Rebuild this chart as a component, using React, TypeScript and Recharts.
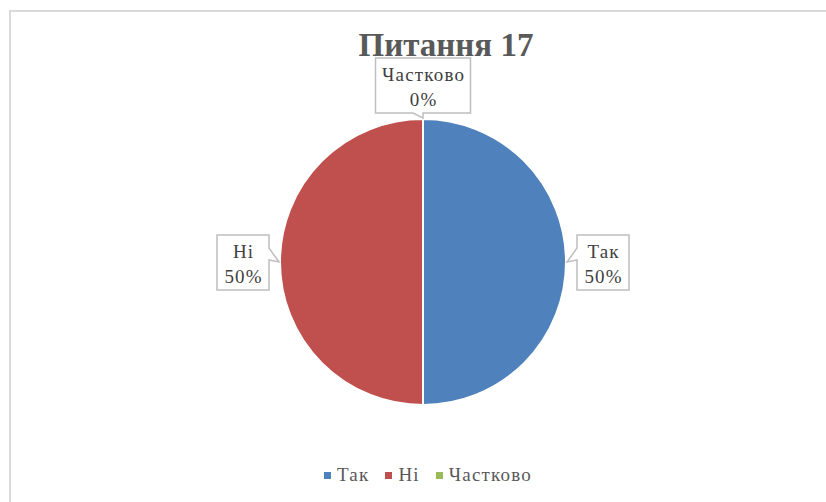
import React from "react";
import { Cell, Legend, Pie, PieChart } from "recharts";

const categories = ["Так", "Ні", "Частково"];
const values = [50, 50, 0];
const colors = ["#4F81BD", "#C0504D", "#9BBB59"];
const title = "Питання 17";

const data = categories.map((name, i) => ({ name, value: values[i] }));

const RADIAN = Math.PI / 180;
const SERIF = "Liberation Serif, Times New Roman, serif";

function CalloutLabel(props: any) {
  const { cx, cy, midAngle, outerRadius, percent, name } = props;
  const tx = cx + outerRadius * Math.cos(-midAngle * RADIAN);
  const ty = cy + outerRadius * Math.sin(-midAngle * RADIAN);
  const w = Math.max(52, name.length * 10 + 15);
  const h = 55;
  const dx = Math.cos(-midAngle * RADIAN);
  const dy = Math.sin(-midAngle * RADIAN);
  let x0: number;
  let y0: number;
  let path: string;
  if (Math.abs(dx) >= Math.abs(dy)) {
    y0 = ty - 27;
    if (dx > 0) {
      x0 = tx + 11;
      path = `M${x0},${y0} H${x0 + w} V${y0 + h} H${x0} V${ty - 2} L${tx + 1},${ty} L${x0},${ty - 14} Z`;
    } else {
      x0 = tx - 11 - w;
      const r = x0 + w;
      path = `M${x0},${y0} H${r} V${ty - 14} L${tx - 1},${ty} L${r},${ty - 2} V${y0 + h} H${x0} Z`;
    }
  } else {
    x0 = tx - w / 2;
    if (dy < 0) {
      y0 = ty - 6 - h;
      const b = y0 + h;
      path = `M${x0},${y0} H${x0 + w} V${b} H${tx} L${tx},${ty - 1} L${tx - 10},${b} H${x0} Z`;
    } else {
      y0 = ty + 6;
      path = `M${x0},${y0} H${tx - 10} L${tx},${ty + 1} L${tx},${y0} H${x0 + w} V${y0 + h} H${x0} Z`;
    }
  }
  const pct = `${Math.round(percent * 100)}%`;
  const textStyle = { fontFamily: SERIF, fontSize: 19, letterSpacing: 1.2 };
  return (
    <g>
      <path d={path} fill="#ffffff" stroke="#bfbfbf" strokeWidth={1.5} />
      <text x={x0 + w / 2 + 0.6} y={y0 + 23} textAnchor="middle" style={textStyle} fill="#404040">
        {name}
      </text>
      <text x={x0 + w / 2 + 0.6} y={y0 + 48} textAnchor="middle" style={textStyle} fill="#404040">
        {pct}
      </text>
    </g>
  );
}

// legend built from our own arrays so the order stays Так, Ні, Частково
function LegendContent() {
  return (
    <div style={{ display: "flex", justifyContent: "center", alignItems: "center", columnGap: 16, width: 838 }}>
      {categories.map((name, i) => (
        <div key={name} style={{ display: "flex", alignItems: "center" }}>
          <span style={{ width: 7, height: 7, background: colors[i], marginRight: 6, display: "inline-block" }} />
          <span style={{ fontFamily: SERIF, fontSize: 19, letterSpacing: 1.2, color: "#595959" }}>{name}</span>
        </div>
      ))}
    </div>
  );
}

export default function App() {
  return (
    <div style={{ position: "fixed", inset: 0, overflow: "hidden", background: "#fff" }}>
      <div
        style={{
          position: "absolute",
          left: 9,
          top: 10,
          width: 870,
          height: 510,
          border: "2px solid #d9d9d9",
          boxSizing: "border-box",
          background: "#fff",
        }}
      >
        <div
          style={{
            position: "absolute",
            top: 15,
            left: 0,
            width: 870,
            textAlign: "center",
            fontFamily: SERIF,
            fontWeight: "bold",
            fontSize: 33,
            lineHeight: "36px",
            color: "#595959",
          }}
        >
          {title}
        </div>
        <div style={{ position: "absolute", left: -2, top: -2 }}>
          <PieChart width={870} height={510}>
            <Pie
              data={data}
              dataKey="value"
              nameKey="name"
              cx={409}
              cy={247}
              outerRadius={143}
              startAngle={90}
              endAngle={-270}
              stroke="#ffffff"
              strokeWidth={2}
              label={CalloutLabel}
              labelLine={false}
              isAnimationActive={false}
            >
              {data.map((d, i) => (
                <Cell key={d.name} fill={colors[i]} />
              ))}
            </Pie>
            <Legend
              content={LegendContent}
              wrapperStyle={{ position: "absolute", left: 0, top: 454, width: 838 }}
            />
          </PieChart>
        </div>
      </div>
    </div>
  );
}
